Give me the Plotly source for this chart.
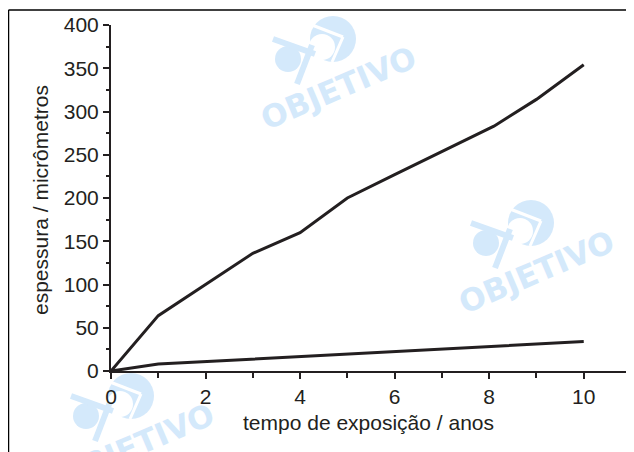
import plotly.graph_objects as go

# Data
years_upper = [0, 1, 2, 3, 4, 5, 6, 7, 8.1, 9, 10]
thick_upper = [0, 64, 100, 136, 160, 200, 227, 254, 283, 314, 354]
years_lower = [0, 1, 10]
thick_lower = [0, 8, 34]

x_ticks = [0, 2, 4, 6, 8, 10]
y_ticks = [0, 50, 100, 150, 200, 250, 300, 350, 400]

# page is offset by the 8px body margin
OFF = 8
W, H = 634 - OFF, 452 - OFF
ML, MR, MT, MB = 111 - OFF, 3, 25 - OFF, 81
PW, PH = W - ML - MR, H - MT - MB

def px(x):
    return (x - OFF - ML) / PW

def py(y):
    return (H - MB - (y - OFF)) / PH

INK = "#231f20"
WM = "#d4e9fb"

fig = go.Figure()
fig.add_trace(go.Scatter(x=years_upper, y=thick_upper, mode="lines",
                         line=dict(color=INK, width=3), showlegend=False))
fig.add_trace(go.Scatter(x=years_lower, y=thick_lower, mode="lines",
                         line=dict(color=INK, width=3), showlegend=False))

shapes = []
annotations = []
# frame
shapes.append(dict(type="line", xref="paper", yref="paper", x0=px(8.5), x1=px(640), y0=py(10), y1=py(10),
                   line=dict(color="#000", width=1.5)))
shapes.append(dict(type="line", xref="paper", yref="paper", x0=px(8.5), x1=px(8.5), y0=py(10), y1=py(460),
                   line=dict(color="#000", width=1.5)))

# watermarks
def circle(cx, cy, r, color):
    return dict(type="circle", xref="paper", yref="paper", layer="below",
                x0=px(cx - r), x1=px(cx + r), y0=py(cy + r), y1=py(cy - r),
                fillcolor=color, line=dict(width=0))

def seg(x0, y0, x1, y1, color, w):
    return dict(type="line", xref="paper", yref="paper", layer="below",
                x0=px(x0), x1=px(x1), y0=py(y0), y1=py(y1),
                line=dict(color=color, width=w))

for cx, cy in [(338, 88), (536, 272), (136, 445)]:
    shapes.append(circle(cx - 5, cy - 49, 23, WM))
    shapes.append(circle(cx - 16, cy - 41, 13, "white"))
    shapes.append(seg(cx - 26, cy - 63, cx + 5, cy - 51, "white", 3))
    shapes.append(seg(cx + 5, cy - 51, cx - 6, cy - 26, "white", 3))
    shapes.append(circle(cx - 50, cy - 29, 13, WM))
    shapes.append(seg(cx - 65, cy - 49, cx - 23, cy - 34, WM, 6))
    shapes.append(seg(cx - 41, cy - 4, cx - 26, cy - 43, WM, 6))
    annotations.append(dict(text="<b>OBJETIVO</b>", xref="paper", yref="paper",
                            x=px(cx), y=py(cy), showarrow=False, textangle=-23,
                            font=dict(family="DejaVu Sans", size=31, color=WM),
                            xanchor="center", yanchor="middle"))

annotations.append(dict(text="espessura / micrômetros", xref="paper", yref="paper",
                        x=px(40), y=py(200), showarrow=False, textangle=-90,
                        font=dict(family="Liberation Sans", size=21, color=INK),
                        xanchor="center", yanchor="middle"))
annotations.append(dict(text="tempo de exposição / anos", xref="paper", yref="paper",
                        x=px(368), y=py(422), showarrow=False,
                        font=dict(family="Liberation Sans", size=21, color=INK),
                        xanchor="center", yanchor="middle"))

fig.update_layout(
    width=W, height=H,
    margin=dict(l=ML, r=MR, t=MT, b=MB),
    paper_bgcolor="white", plot_bgcolor="white",
    shapes=shapes, annotations=annotations,
    xaxis=dict(range=[0, 11], tickvals=x_ticks, ticktext=[str(v) for v in x_ticks],
               showgrid=False, zeroline=False, showline=True, linecolor=INK, linewidth=2,
               ticks="outside", ticklen=6, tickwidth=2, tickcolor=INK,
               minor=dict(tickvals=[1, 3, 5, 7, 9, 11], ticks="outside", ticklen=5, tickwidth=2, tickcolor=INK),
               tickfont=dict(family="Liberation Sans", size=21, color=INK)),
    yaxis=dict(range=[0, 400], tickvals=y_ticks, ticktext=[str(v) for v in y_ticks],
               showgrid=False, zeroline=False, showline=True, linecolor=INK, linewidth=2,
               ticks="outside", ticklen=6, tickwidth=2, tickcolor=INK,
               minor=dict(dtick=25, ticks="outside", ticklen=3, tickwidth=2, tickcolor=INK),
               tickfont=dict(family="Liberation Sans", size=21, color=INK)),
)

fig.write_html("out.html")
